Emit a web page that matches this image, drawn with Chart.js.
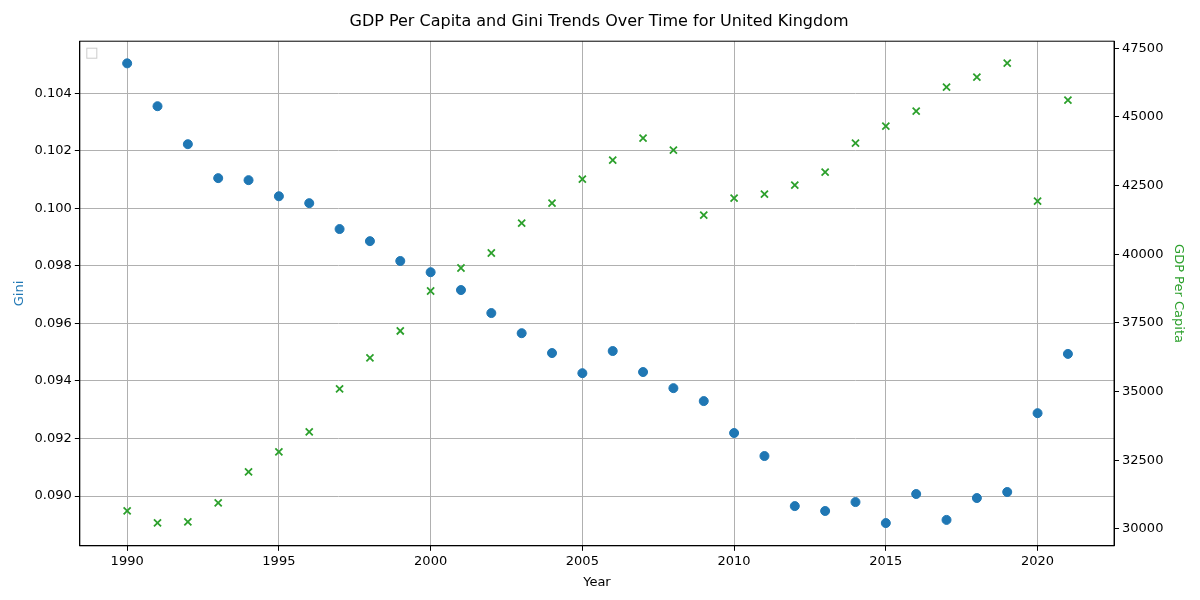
<!DOCTYPE html>
<html>
<head>
<meta charset="utf-8">
<script src="https://cdn.jsdelivr.net/npm/chart.js@4/dist/chart.umd.min.js"></script>
<style>
  html, body { margin: 0; padding: 0; background: #fff; }
  #wrap { width: 1200px; height: 600px; }
</style>
</head>
<body>
<div id="wrap"><canvas id="chart"></canvas></div>
<script>
const years = [1990, 1991, 1992, 1993, 1994, 1995, 1996, 1997, 1998, 1999, 2000,
    2001, 2002, 2003, 2004, 2005, 2006, 2007, 2008, 2009, 2010,
    2011, 2012, 2013, 2014, 2015, 2016, 2017, 2018, 2019, 2020, 2021];

const gini = [0.10504, 0.10355, 0.10223, 0.10105, 0.10098, 0.10042, 0.10018, 0.09928,
    0.09886, 0.09817, 0.09778, 0.09716, 0.09636, 0.09566, 0.09497, 0.09427,
    0.09504, 0.09431, 0.09375, 0.09330, 0.09219, 0.09139, 0.08965, 0.08948,
    0.08979, 0.08906, 0.09007, 0.08917, 0.08993, 0.09014, 0.09288, 0.09494];

const gdpPerCapita = [30655, 30218, 30255, 30946, 32074, 32802, 33530, 35095,
    36223, 37205, 38661, 39498, 40044, 41135, 41863, 42737,
    43428, 44228, 43792, 41426, 42045, 42191, 42518, 42991,
    44047, 44665, 45211, 46084, 46448, 46958, 41936, 45611];

const font = { family: 'DejaVu Sans', size: 13 };
Chart.defaults.font = font;
Chart.defaults.color = '#000';

new Chart(document.getElementById('chart').getContext('2d'), {
    type: 'scatter',
    data: {
        datasets: [{
            label: 'Gini',
            data: years.map((y, i) => ({ x: y, y: gini[i] })),
            yAxisID: 'y',
            backgroundColor: '#1f77b4',
            borderColor: '#1f77b4',
            pointRadius: 4.5,
            pointHoverRadius: 4.5
        }, {
            label: 'GDP Per Capita',
            data: years.map((y, i) => ({ x: y, y: gdpPerCapita[i] })),
            yAxisID: 'y1',
            pointStyle: 'crossRot',
            borderColor: '#2ca02c',
            borderWidth: 1.8,
            pointRadius: 5,
            pointHoverRadius: 5
        }]
    },
    options: {
        responsive: true,
        maintainAspectRatio: false,
        animation: false,
        layout: { padding: { left: 8, right: 10, top: 0, bottom: 8 } },
        plugins: {
            legend: { display: false },
            tooltip: { enabled: false },
            title: {
                display: true,
                text: 'GDP Per Capita and Gini Trends Over Time for United Kingdom',
                font: { family: 'DejaVu Sans', size: 16, weight: 'normal' },
                padding: { top: 12, bottom: 10 }
            }
        },
        scales: {
            x: {
                type: 'linear',
                min: 1988.44,
                max: 2022.52,
                afterBuildTicks: axis => {
                    axis.ticks = [1990, 1995, 2000, 2005, 2010, 2015, 2020].map(v => ({ value: v }));
                },
                ticks: { callback: v => String(v) },
                grid: { color: '#b0b0b0', tickColor: '#000', tickLength: 5 },
                border: { color: '#000' },
                title: { display: true, text: 'Year', font: font, padding: 2 }
            },
            y: {
                position: 'left',
                min: 0.08827,
                max: 0.10581,
                afterBuildTicks: axis => {
                    axis.ticks = [0.090, 0.092, 0.094, 0.096, 0.098, 0.100, 0.102, 0.104].map(v => ({ value: v }));
                },
                ticks: { callback: v => v.toFixed(3) },
                grid: { color: '#b0b0b0', tickColor: '#000', tickLength: 5 },
                border: { color: '#000' },
                title: { display: true, text: 'Gini', color: '#1f77b4', font: font }
            },
            y1: {
                position: 'right',
                min: 29381,
                max: 47758,
                afterBuildTicks: axis => {
                    axis.ticks = [30000, 32500, 35000, 37500, 40000, 42500, 45000, 47500].map(v => ({ value: v }));
                },
                ticks: { callback: v => String(v) },
                grid: { drawOnChartArea: false, tickColor: '#000', tickLength: 5 },
                border: { color: '#000' },
                title: { display: true, text: 'GDP Per Capita', color: '#2ca02c', font: font }
            }
        }
    },
    plugins: [{
        id: 'frame',
        afterDraw(chart) {
            const { ctx, chartArea: a } = chart;
            ctx.save();
            ctx.strokeStyle = '#000';
            ctx.lineWidth = 1;
            ctx.strokeRect(a.left, a.top, a.right - a.left, a.bottom - a.top);
            // empty legend box as in the reference
            ctx.strokeStyle = '#ccc';
            ctx.strokeRect(a.left + 7, a.top + 7, 10, 10);
            ctx.restore();
        }
    }]
});
</script>
</body>
</html>
